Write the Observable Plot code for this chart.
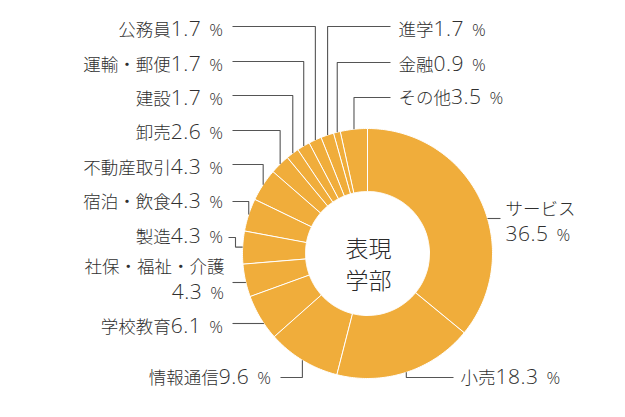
<!DOCTYPE html>
<html><head><meta charset="utf-8">
<script src="https://cdn.jsdelivr.net/npm/d3@7"></script>
<script src="https://cdn.jsdelivr.net/npm/@observablehq/plot@0.6"></script>
<style>body{margin:0;background:#fff}svg{display:block}</style>
</head><body><div id="chart"></div>
<script>
// ---- data ----
const categories = ["サービス","小売","情報通信","学校教育","社保・福祉・介護","製造","宿泊・飲食","不動産取引","卸売","建設","運輸・郵便","公務員","進学","金融","その他"];
const shares = [36.5,18.3,9.6,6.1,4.3,4.3,4.3,4.3,2.6,1.7,1.7,1.7,1.7,0.9,3.5];
const centerTitle = ["表現","学部"];
const unit = "%";

// ---- layout (not data) ----
const W = 625, H = 417;
const cx = 367, cy = 253, R = 125, r = 62;
const ORANGE = "#F0AD3B", INK = "#2f2f2f", LINE = "#555";
const CJK = "'Noto Sans CJK JP', sans-serif";
const LAT = "'Open Sans', 'Noto Sans', sans-serif";
const layout = {
  "サービス":        {side:"R", ly:218, kind:"flat",   hx:500, tx:505, base:[214,240]},
  "小売":            {side:"R", ly:377, kind:"corner", hx:453, tx:460, base:383},
  "情報通信":        {side:"L", ly:377, kind:"corner", hx:280, tx:271, base:383},
  "学校教育":        {side:"L", ly:323, kind:"flat",   hx:232, tx:223, base:332},
  "社保・福祉・介護": {side:"L", ly:282, kind:"flat",   hx:232, tx:224, base:[272,298]},
  "製造":            {side:"L", ly:237, kind:"elbow",  hx:228, hx2:235, tx:223, base:242},
  "宿泊・飲食":      {side:"L", ly:201, kind:"corner", hx:232, tx:223, base:207},
  "不動産取引":      {side:"L", ly:164, kind:"corner", hx:232, tx:223, base:173},
  "卸売":            {side:"L", ly:130, kind:"corner", hx:232, tx:223, base:138},
  "建設":            {side:"L", ly:95,  kind:"corner", hx:232, tx:223, base:104},
  "運輸・郵便":      {side:"L", ly:61,  kind:"corner", hx:232, tx:223, base:70},
  "公務員":          {side:"L", ly:26,  kind:"corner", hx:232, tx:223, base:35},
  "進学":            {side:"R", ly:26,  kind:"corner", hx:390, tx:398, base:35},
  "金融":            {side:"R", ly:62,  kind:"corner", hx:390, tx:398, base:70},
  "その他":          {side:"R", ly:97,  kind:"corner", hx:390, tx:398, base:103}
};

// ---- geometry from data ----
const total = d3.sum(shares);
let cum = 0;
const slices = categories.map((c, i) => {
  const a0 = cum / total * 2 * Math.PI;
  cum += shares[i];
  const a1 = cum / total * 2 * Math.PI;
  return {c, v: shares[i], a0, a1, mid: (a0 + a1) / 2};
});
const pt = (a, rho) => [cx + rho * Math.sin(a), cy - rho * Math.cos(a)];

const slicePts = [];
for (const s of slices) {
  const n = Math.max(4, Math.ceil((s.a1 - s.a0) / (Math.PI / 180)));
  for (let k = 0; k <= n; k++) { const [x, y] = pt(s.a0 + (s.a1 - s.a0) * k / n, R); slicePts.push({c: s.c, x, y}); }
  for (let k = n; k >= 0; k--) { const [x, y] = pt(s.a0 + (s.a1 - s.a0) * k / n, r); slicePts.push({c: s.c, x, y}); }
}

const NAME = 17.5, NUM = 21, PCT = 17;
const leaderPts = [];
const labelItems = [];
for (const s of slices) {
  const L = layout[s.c];
  const [px, py] = pt(s.mid, R);
  let pts;
  if (L.kind === "corner") pts = [[L.hx, L.ly], [px, L.ly], [px, py]];
  else if (L.kind === "elbow") pts = [[L.hx, L.ly], [L.hx2, L.ly], [L.hx2, py], [px, py]];
  else {
    const dx = Math.sqrt(R * R - (L.ly - cy) * (L.ly - cy));
    const ax = L.side === "L" ? cx - dx : cx + dx;
    pts = [[L.hx, L.ly], [ax, L.ly]];
  }
  pts.forEach(([x, y]) => leaderPts.push({c: s.c, x, y}));
  const anchor = L.side === "L" ? "end" : "start";
  const val = s.v.toFixed(1);
  if (Array.isArray(L.base)) {
    labelItems.push({x: L.tx, y: L.base[0], anchor, parts: [{t: s.c, f: CJK, s: NAME}]});
    labelItems.push({x: L.tx, y: L.base[1], anchor, parts: [{t: val, f: LAT, s: NUM}, {t: unit, f: LAT, s: PCT, dx: 8}]});
  } else {
    labelItems.push({x: L.tx, y: L.base, anchor, parts: [{t: s.c, f: CJK, s: NAME}, {t: val, f: LAT, s: NUM}, {t: unit, f: LAT, s: PCT, dx: 8}]});
  }
}
labelItems.forEach(d => d.text = d.parts.map(p => p.t).join(""));
const leftItems = labelItems.filter(d => d.anchor === "end");
const rightItems = labelItems.filter(d => d.anchor === "start");
const centerItems = [{t: centerTitle.join("\n"), x: cx + 1, y: 262}];

const svg = Plot.plot({
  width: W, height: H,
  margin: 0,
  x: {domain: [0, W], range: [0, W], axis: null},
  y: {domain: [0, H], range: [0, H], axis: null},
  style: {background: "#fff", overflow: "visible"},
  marks: [
    Plot.line(slicePts, {x: "x", y: "y", z: "c", curve: "linear-closed", fill: ORANGE, stroke: "#fff", strokeWidth: 1, strokeLinejoin: "miter"}),
    Plot.line(leaderPts, {x: "x", y: "y", z: "c", stroke: LINE, strokeWidth: 1.1, strokeLinejoin: "miter", strokeLinecap: "butt"}),
    Plot.text(leftItems, {x: "x", y: "y", text: "text", textAnchor: "end", lineAnchor: "bottom", fill: INK, fontSize: 20}),
    Plot.text(rightItems, {x: "x", y: "y", text: "text", textAnchor: "start", lineAnchor: "bottom", fill: INK, fontSize: 20}),
    Plot.text(centerItems, {x: "x", y: "y", text: "t", textAnchor: "middle", lineAnchor: "middle", lineHeight: 1.42, fill: "#2a2a2a", fontSize: 23, fontWeight: 300, fontFamily: CJK})
  ]
});

// mixed font sizes inside each label (still real text)
const ns = "http://www.w3.org/2000/svg";
const textGroups = svg.querySelectorAll('g[aria-label="text"]');
[[textGroups[0], leftItems], [textGroups[1], rightItems]].forEach(([g, items]) => {
  if (!g) return;
  g.querySelectorAll("text").forEach((el, i) => {
    const item = items[i];
    if (!item) return;
    while (el.firstChild) el.removeChild(el.firstChild);
    for (const p of item.parts) {
      const ts = document.createElementNS(ns, "tspan");
      ts.textContent = p.t;
      ts.setAttribute("font-size", p.s);
      ts.setAttribute("font-family", p.f);
      ts.setAttribute("font-weight", 300);
      if (p.f === LAT) ts.setAttribute("letter-spacing", "0.5");
      if (p.dx) ts.setAttribute("dx", p.dx);
      el.appendChild(ts);
    }
  });
});
document.getElementById("chart").appendChild(svg);
</script>
</body></html>
